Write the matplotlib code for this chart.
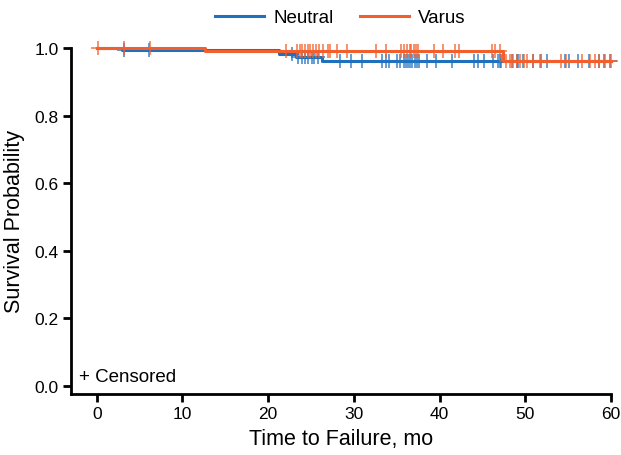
import numpy as np
import matplotlib
matplotlib.use("Agg")
import matplotlib.pyplot as plt

plt.rcParams['font.family'] = ['Liberation Sans', 'DejaVu Sans']

groups = ["Neutral", "Varus"]
colors = ["#1f70bd", "#f25f2c"]

# Step curves (event times and survival after each step)
neutral_times = [0.0, 2.9, 21.3, 23.2, 26.3, 60.0]
neutral_surv = [1.0, 0.994, 0.983, 0.973, 0.962, 0.962]
varus_times = [0.0, 12.6, 47.4, 60.0]
varus_surv = [1.0, 0.992, 0.962, 0.962]

# Censoring times
neutral_cens = [3.2, 6.1, 22.8, 23.5, 23.9, 24.3, 24.6, 25.1, 25.4, 25.8,
                28.4, 29.7, 31.0, 33.3, 33.7, 34.1, 35.0, 35.4, 35.8, 36.1,
                36.3, 36.6, 36.8, 37.1, 37.4, 37.6, 38.5, 39.6, 41.5, 44.0,
                44.5, 45.2, 46.2, 46.8, 47.0, 47.2, 48.5, 49.0, 49.2, 49.7,
                50.9, 51.8, 52.5, 54.6, 55.1, 56.1, 57.4, 58.6, 59.2, 59.9]
varus_cens = [0.1, 3.2, 6.2, 22.1, 23.4, 23.7, 24.0, 24.3, 24.6, 24.9,
              25.2, 25.6, 25.9, 26.4, 27.0, 27.2, 28.0, 29.2, 32.6, 33.8,
              35.5, 35.9, 36.2, 36.5, 36.7, 37.0, 37.2, 37.5, 39.3, 40.4,
              41.8, 42.3, 46.1, 46.5, 47.0, 47.8, 48.2, 48.6, 49.0, 49.4,
              49.8, 50.2, 50.9, 51.7, 54.2, 54.8, 56.6, 57.5, 58.1, 58.6,
              59.3, 60.0]

x_ticks = [0, 10, 20, 30, 40, 50, 60]
y_ticks = [0.0, 0.2, 0.4, 0.6, 0.8, 1.0]

fig = plt.figure(figsize=(6.21, 4.56), dpi=100)
ax = fig.add_axes([71/621, 1-395/456, 540/621, 346/456])

series = [(neutral_times, neutral_surv, neutral_cens),
          (varus_times, varus_surv, varus_cens)]
handles = []
for (t, s, c), name, col in zip(series, groups, colors):
    h, = ax.step(t, s, where='post', color=col, lw=2.2, label=name,
                 clip_on=False, zorder=3)
    handles.append(h)
    t_arr = np.array(t)
    s_arr = np.array(s)
    idx = np.searchsorted(t_arr, np.array(c), side='right') - 1
    ax.plot(c, s_arr[idx], linestyle='none', marker='+', ms=10, mew=1.2,
            color=col, alpha=0.8, clip_on=False, zorder=3)

ax.set_xlim(-3, 60)
ax.set_ylim(-0.0237, 1.0)
ax.set_xticks(x_ticks)
ax.set_yticks(y_ticks)
ax.set_yticklabels([f"{v:.1f}" for v in y_ticks])
ax.spines['top'].set_visible(False)
ax.spines['right'].set_visible(False)
ax.spines['left'].set_linewidth(2.0)
ax.spines['bottom'].set_linewidth(2.0)
ax.tick_params(direction='out', length=6, width=2.0, labelsize=12.5, pad=3)
ax.set_xlabel("Time to Failure, mo", fontsize=15.5, labelpad=5)
ax.set_ylabel("Survival Probability", fontsize=15.5, labelpad=7)

ax.text(0.015, 0.025, "+ Censored", transform=ax.transAxes, fontsize=13.5,
        ha='left', va='bottom')

fig.legend(handles=handles, labels=groups, loc='upper center',
           bbox_to_anchor=(0.548, 1.015), ncol=2, frameon=False,
           fontsize=13.5, handlelength=2.6, columnspacing=1.4,
           handletextpad=0.5)

fig.savefig("out.png", dpi=100)
